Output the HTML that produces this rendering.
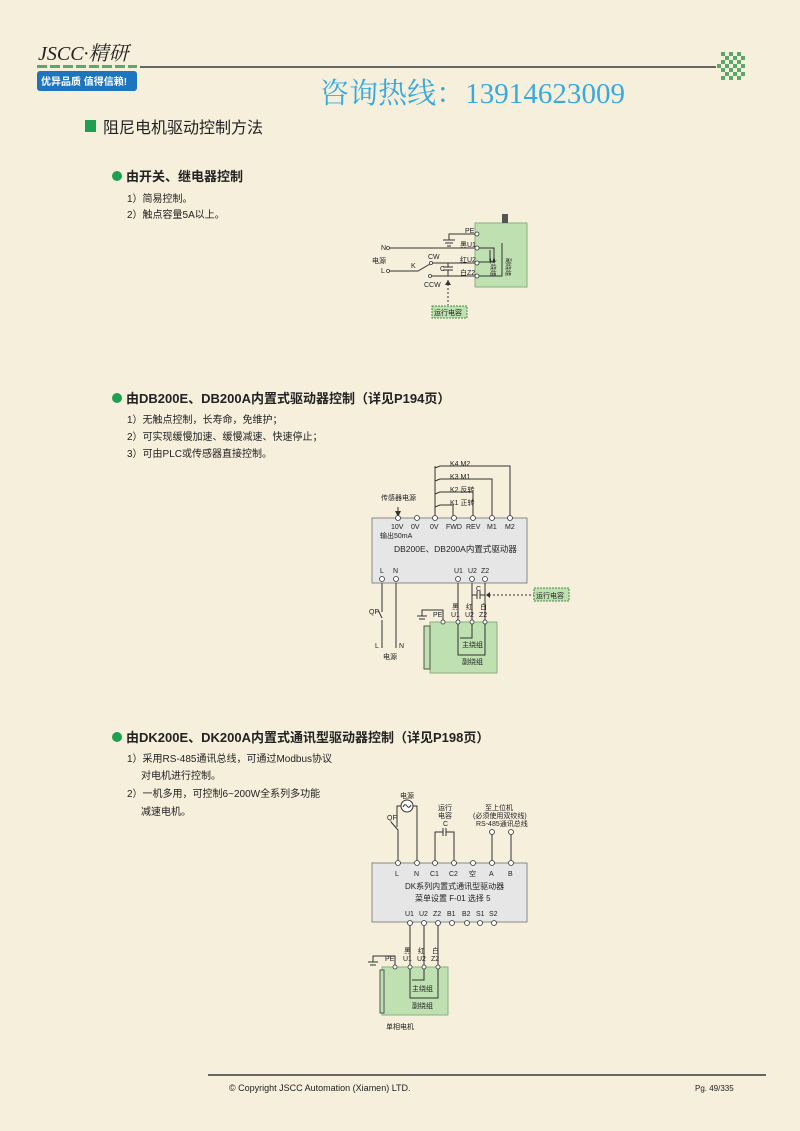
<!DOCTYPE html>
<html><head><meta charset="utf-8"><style>
html,body{margin:0;padding:0;background:#f6efdc;}
svg{display:block}
text{font-family:"Liberation Sans","Noto Sans CJK SC",sans-serif;fill:#222}
</style></head><body>
<svg width="800" height="1131" viewBox="0 0 800 1131" xmlns="http://www.w3.org/2000/svg">
<rect width="800" height="1131" fill="#f6efdc"/>
<!-- header -->
<text x="38" y="60" font-size="20" style="font-family:'Liberation Serif','Noto Serif CJK SC',serif;font-style:italic">JSCC·精研</text>
<g fill="#5aa86a">
<rect x="37" y="65" width="10" height="3"/><rect x="50" y="65" width="10" height="3"/><rect x="63" y="65" width="10" height="3"/><rect x="76" y="65" width="10" height="3"/><rect x="89" y="65" width="10" height="3"/><rect x="102" y="65" width="10" height="3"/><rect x="115" y="65" width="10" height="3"/><rect x="128" y="65" width="9" height="3"/>
</g>
<rect x="37" y="71" width="100" height="20" rx="3" fill="#1d74bf"/>
<text x="41" y="85" font-size="10" font-weight="bold" style="fill:#fff">优异品质 值得信赖!</text>
<rect x="140" y="66" width="576" height="2" fill="#666"/>
<g fill="#5aa86a">
<rect x="721" y="52" width="4" height="4"/><rect x="729" y="52" width="4" height="4"/><rect x="737" y="52" width="4" height="4"/>
<rect x="725" y="56" width="4" height="4"/><rect x="733" y="56" width="4" height="4"/><rect x="741" y="56" width="4" height="4"/>
<rect x="721" y="60" width="4" height="4"/><rect x="729" y="60" width="4" height="4"/><rect x="737" y="60" width="4" height="4"/>
<rect x="717" y="64" width="4" height="4"/><rect x="725" y="64" width="4" height="4"/><rect x="733" y="64" width="4" height="4"/><rect x="741" y="64" width="4" height="4"/>
<rect x="721" y="68" width="4" height="4"/><rect x="729" y="68" width="4" height="4"/><rect x="737" y="68" width="4" height="4"/>
<rect x="725" y="72" width="4" height="4"/><rect x="733" y="72" width="4" height="4"/><rect x="741" y="72" width="4" height="4"/>
<rect x="721" y="76" width="4" height="4"/><rect x="729" y="76" width="4" height="4"/><rect x="737" y="76" width="4" height="4"/>
</g>
<text x="320" y="103" font-size="29" textLength="305" style="fill:#3aa9dd;font-family:'Liberation Serif','Noto Serif CJK SC',serif">咨询热线：13914623009</text>
<rect x="85" y="120" width="11" height="12" fill="#1ea050"/>
<text x="103" y="133" font-size="16">阻尼电机驱动控制方法</text>

<!-- section 1 -->
<circle cx="117" cy="176" r="5" fill="#1ea050"/>
<text x="126" y="181" font-size="13" font-weight="bold">由开关、继电器控制</text>
<text x="127" y="202" font-size="10">1）简易控制。</text>
<text x="127" y="218" font-size="10">2）触点容量5A以上。</text>

<g stroke="#333" stroke-width="1" fill="none">
<rect x="475" y="223" width="52" height="64" fill="#bfe0b0" stroke="#8ab080"/>
<path d="M477 234 H449 V240 M443 240 H455 M445 243 H453 M447 246 H451"/>
<path d="M388 248 H477"/>
<path d="M388 271 H418 L430 264"/>
<path d="M432 263 H477 M430 276 H477"/>
<path d="M448 263 V267 M443 267 H453 M443 270 H453 M448 270 V276"/>
<path d="M448 280 V305" stroke-dasharray="2,2"/>
<path d="M477 248 H494 V262 H477 M490 250 V262 M502 243 V276 H477"/>
</g>
<rect x="502" y="214" width="6" height="9" fill="#555"/>
<path d="M445 285 L448 280 L451 285Z" fill="#333"/>
<g fill="#fff" stroke="#333" stroke-width="0.8">
<circle cx="477" cy="234" r="2"/><circle cx="477" cy="248" r="2"/><circle cx="477" cy="263" r="2"/><circle cx="477" cy="276" r="2"/>
<circle cx="388" cy="248" r="1.5"/><circle cx="388" cy="271" r="1.5"/><circle cx="431" cy="263" r="1.5"/><circle cx="430" cy="276" r="1.5"/>
</g>
<g font-size="7">
<text x="465" y="233">PE</text><text x="460" y="247">黑U1</text><text x="460" y="262">红U2</text><text x="460" y="275">白Z2</text>
<text x="381" y="250">N</text><text x="372" y="263">电源</text><text x="381" y="273">L</text>
<text x="411" y="268">K</text><text x="428" y="259">CW</text><text x="424" y="287">CCW</text><text x="440" y="271">C</text>
</g>
<text x="498" y="265" font-size="6" transform="rotate(90 498 258)">主绕组</text>
<text x="513" y="265" font-size="6" transform="rotate(90 513 258)">副绕组</text>
<rect x="432" y="306" width="35" height="12" fill="#bfe0b0" stroke="#4a8a4a" stroke-dasharray="2,1"/>
<text x="434" y="315" font-size="7">运行电容</text>

<!-- section 2 -->
<circle cx="117" cy="398" r="5" fill="#1ea050"/>
<text x="126" y="403" font-size="13" font-weight="bold">由DB200E、DB200A内置式驱动器控制（详见P194页）</text>
<text x="127" y="423" font-size="10">1）无触点控制，长寿命，免维护；</text>
<text x="127" y="440" font-size="10">2）可实现缓慢加速、缓慢减速、快速停止；</text>
<text x="127" y="457" font-size="10">3）可由PLC或传感器直接控制。</text>

<rect x="372" y="518" width="155" height="65" fill="#e6e6e6" stroke="#888"/>
<g stroke="#333" stroke-width="1" fill="none">
<path d="M435 518 V466 M435 468 L440 466 H510 V518 M435 481 L440 479 H492 V518 M435 494 L440 492 H473 V518 M435 507 L440 505 H453 V518"/>
<path d="M398 507 V516"/>
<path d="M382 583 V612 M382 618 L378 610 M382 620 V648 M396 583 V648"/>
<path d="M458 583 V622 M472 583 V622 M485 583 V622"/>
<path d="M472 595 H477 M477 591 V599 M480 591 V599 M480 595 H485"/>
<path d="M535 595 H490" stroke-dasharray="2,2"/>
</g>
<path d="M395 511 L398 517 L401 511Z" fill="#333"/>
<path d="M490 592 L486 595 L490 598Z" fill="#333"/>
<g fill="#fff" stroke="#333" stroke-width="0.8">
<circle cx="398" cy="518" r="2.5"/><circle cx="417" cy="518" r="2.5"/><circle cx="435" cy="518" r="2.5"/><circle cx="454" cy="518" r="2.5"/><circle cx="473" cy="518" r="2.5"/><circle cx="492" cy="518" r="2.5"/><circle cx="510" cy="518" r="2.5"/>
<circle cx="382" cy="579" r="2.5"/><circle cx="396" cy="579" r="2.5"/><circle cx="458" cy="579" r="2.5"/><circle cx="472" cy="579" r="2.5"/><circle cx="485" cy="579" r="2.5"/>
</g>
<rect x="430" y="622" width="67" height="51" fill="#bfe0b0" stroke="#8ab080"/>
<rect x="424" y="626" width="6" height="43" fill="#bfe0b0" stroke="#555"/>
<g stroke="#333" fill="none"><path d="M443 622 V610 H422 V616 M417 616 H427 M419 619 H425"/><path d="M458 622 V655 H485 V622 M472 622 V638 H460"/></g>
<g fill="#fff" stroke="#333" stroke-width="0.8"><circle cx="443" cy="622" r="2"/><circle cx="458" cy="622" r="2"/><circle cx="472" cy="622" r="2"/><circle cx="485" cy="622" r="2"/></g>
<g font-size="7">
<text x="450" y="466">K4 M2</text><text x="450" y="479">K3 M1</text><text x="450" y="492">K2 反转</text><text x="450" y="505">K1 正转</text>
<text x="381" y="500">传感器电源</text>
<text x="391" y="529">10V</text><text x="411" y="529">0V</text><text x="430" y="529">0V</text><text x="446" y="529">FWD</text><text x="466" y="529">REV</text><text x="487" y="529">M1</text><text x="505" y="529">M2</text>
<text x="380" y="538">输出50mA</text>
<text x="380" y="573">L</text><text x="393" y="573">N</text><text x="454" y="573">U1</text><text x="468" y="573">U2</text><text x="481" y="573">Z2</text>
<text x="476" y="591">C</text>
<text x="369" y="614">QF</text>
<text x="375" y="648">L</text><text x="399" y="648">N</text><text x="383" y="659">电源</text>
<text x="433" y="617">PE</text>
<text x="452" y="609">黑</text><text x="451" y="617">U1</text><text x="466" y="609">红</text><text x="465" y="617">U2</text><text x="480" y="609">白</text><text x="479" y="617">Z2</text>
<text x="462" y="647">主绕组</text><text x="462" y="664">副绕组</text>
</g>
<text x="394" y="552" font-size="8.5">DB200E、DB200A内置式驱动器</text>
<rect x="534" y="588" width="35" height="13" fill="#bfe0b0" stroke="#4a8a4a" stroke-dasharray="2,1"/>
<text x="536" y="598" font-size="7">运行电容</text>

<!-- section 3 -->
<circle cx="117" cy="737" r="5" fill="#1ea050"/>
<text x="126" y="742" font-size="13" font-weight="bold">由DK200E、DK200A内置式通讯型驱动器控制（详见P198页）</text>
<text x="127" y="762" font-size="10">1）采用RS-485通讯总线，可通过Modbus协议</text>
<text x="141" y="779" font-size="10">对电机进行控制。</text>
<text x="127" y="797" font-size="10">2）一机多用，可控制6~200W全系列多功能</text>
<text x="141" y="815" font-size="10">减速电机。</text>

<rect x="372" y="863" width="155" height="59" fill="#e6e6e6" stroke="#888"/>
<g stroke="#333" stroke-width="1" fill="none">
<path d="M398 863 V830 L391 822 M397 827 V806 H401 M413 806 H417 V863"/>
<path d="M435 863 V832 H443 M443 828 V836 M446 828 V836 M446 832 H454 V863"/>
<path d="M492 863 V832 M511 863 V832"/>
<path d="M410 923 V967 M424 923 V967 M438 923 V967"/>
</g>
<circle cx="407" cy="806" r="6" fill="#fff" stroke="#333"/>
<path d="M403 807 Q405 803 407 806 Q409 809 411 805" stroke="#333" fill="none"/>
<g fill="#fff" stroke="#333" stroke-width="0.8">
<circle cx="398" cy="863" r="2.5"/><circle cx="417" cy="863" r="2.5"/><circle cx="435" cy="863" r="2.5"/><circle cx="454" cy="863" r="2.5"/><circle cx="473" cy="863" r="2.5"/><circle cx="492" cy="863" r="2.5"/><circle cx="511" cy="863" r="2.5"/>
<circle cx="492" cy="832" r="2.5"/><circle cx="511" cy="832" r="2.5"/>
<circle cx="410" cy="923" r="2.5"/><circle cx="424" cy="923" r="2.5"/><circle cx="438" cy="923" r="2.5"/><circle cx="452" cy="923" r="2.5"/><circle cx="467" cy="923" r="2.5"/><circle cx="480" cy="923" r="2.5"/><circle cx="494" cy="923" r="2.5"/>
</g>
<rect x="382" y="967" width="66" height="48" fill="#bfe0b0" stroke="#8ab080"/>
<rect x="380" y="970" width="4" height="43" fill="#bfe0b0" stroke="#555"/>
<g stroke="#333" fill="none"><path d="M410 967 V998 H438 V967 M424 967 V980 H412"/><path d="M395 967 V956 H373 V962 M368 962 H378 M370 965 H376"/></g>
<g fill="#fff" stroke="#333" stroke-width="0.8"><circle cx="395" cy="967" r="2"/><circle cx="410" cy="967" r="2"/><circle cx="424" cy="967" r="2"/><circle cx="438" cy="967" r="2"/></g>
<g font-size="7">
<text x="400" y="798">电源</text><text x="387" y="820">QF</text>
<text x="438" y="810">运行</text><text x="438" y="818">电容</text><text x="443" y="826">C</text>
<text x="485" y="810">至上位机</text><text x="473" y="818">(必须使用双绞线)</text><text x="476" y="826">RS-485通讯总线</text>
<text x="395" y="876">L</text><text x="414" y="876">N</text><text x="430" y="876">C1</text><text x="449" y="876">C2</text><text x="469" y="876">空</text><text x="489" y="876">A</text><text x="508" y="876">B</text>
<text x="405" y="916">U1</text><text x="419" y="916">U2</text><text x="433" y="916">Z2</text><text x="447" y="916">B1</text><text x="462" y="916">B2</text><text x="476" y="916">S1</text><text x="489" y="916">S2</text>
<text x="385" y="961">PE</text>
<text x="404" y="953">黑</text><text x="403" y="961">U1</text><text x="418" y="953">红</text><text x="417" y="961">U2</text><text x="432" y="953">白</text><text x="431" y="961">Z2</text>
<text x="412" y="991">主绕组</text><text x="412" y="1008">副绕组</text>
<text x="386" y="1029">单相电机</text>
</g>
<text x="405" y="889" font-size="8">DK系列内置式通讯型驱动器</text>
<text x="415" y="901" font-size="8">菜单设置 F-01 选择 5</text>

<!-- footer -->
<rect x="208" y="1074" width="558" height="2" fill="#666"/>
<text x="229" y="1091" font-size="9">© Copyright JSCC Automation (Xiamen) LTD.</text>
<text x="695" y="1091" font-size="8">Pg. 49/335</text>
</svg>
</body></html>
